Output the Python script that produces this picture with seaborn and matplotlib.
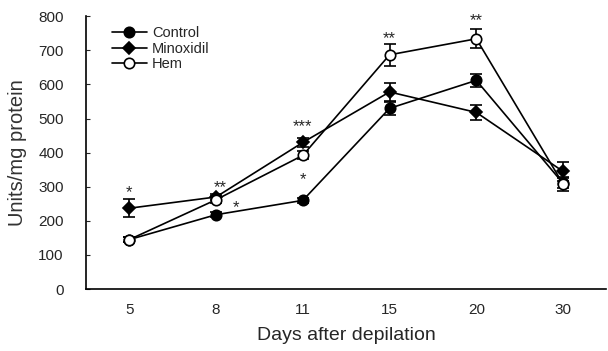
import pandas as pd
import seaborn as sns
import matplotlib.pyplot as plt

days = ["5", "8", "11", "15", "20", "30"]
groups = ["Control", "Minoxidil", "Hem"]

control = [145, 218, 260, 530, 612, 310]
control_err = [8, 8, 8, 20, 20, 15]
minoxidil = [237, 270, 430, 578, 518, 345]
minoxidil_err = [27, 10, 12, 27, 22, 27]
hem = [145, 262, 392, 687, 734, 308]
hem_err = [8, 10, 12, 32, 28, 20]

# significance marks: (text, x position, y value)
star_text = ["*", "**", "*", "***", "*", "**", "**"]
star_x = [0, 1.05, 1.23, 2.0, 2.0, 3.0, 4.0]
star_y = [282, 297, 240, 475, 322, 735, 787]

values = {"Control": control, "Minoxidil": minoxidil, "Hem": hem}
errors = {"Control": control_err, "Minoxidil": minoxidil_err, "Hem": hem_err}

rows = []
for g in groups:
    for i, d in enumerate(days):
        rows.append({"group": g, "pos": i, "day": d, "value": values[g][i], "err": errors[g][i]})
df = pd.DataFrame(rows)

sns.set_style("ticks")
plt.rcParams["font.family"] = ["Liberation Sans", "DejaVu Sans"]

fig = plt.figure(figsize=(6.08, 3.51), dpi=100)
ax = fig.add_axes([0.1414, 0.1766, 0.856, 0.777])

styles = {
    "Control": dict(marker="o", markerfacecolor="black"),
    "Minoxidil": dict(marker="D", markerfacecolor="black", markersize=6.5),
    "Hem": dict(marker="o", markerfacecolor="white"),
}

for g in groups:
    sub = df[df.group == g]
    ax.errorbar(sub.pos, sub.value, yerr=sub.err, fmt="none", ecolor="black",
                elinewidth=1.2, capsize=4, capthick=1.2, zorder=2)
    kw = dict(markersize=7.5)
    kw.update(styles[g])
    sns.lineplot(data=sub, x="pos", y="value", color="black", linewidth=1.2,
                 markeredgecolor="black", markeredgewidth=1.2, label=g, ax=ax,
                 zorder=3, **kw)

for t, x, y in zip(star_text, star_x, star_y):
    ax.text(x, y, t, ha="center", va="center", fontsize=12, clip_on=False)

ax.set_xlim(-0.5, 5.5)
ax.set_ylim(0, 800)
ax.set_xticks(range(len(days)))
ax.set_xticklabels(days)
ax.set_yticks(range(0, 801, 100))
ax.tick_params(axis="x", length=0, labelsize=11, pad=10)
ax.tick_params(axis="y", direction="in", length=3, labelsize=11, pad=16)
ax.set_xlabel("Days after depilation", fontsize=14, labelpad=7)
ax.set_ylabel("Units/mg protein", fontsize=14.5, labelpad=8, color="#333333")
sns.despine(ax=ax)
for s in ["left", "bottom"]:
    ax.spines[s].set_linewidth(1.2)
    ax.spines[s].set_color("black")

leg = ax.legend(loc="upper left", bbox_to_anchor=(0.03, 1.0), frameon=False,
                fontsize=10.5, handlelength=2.4, labelspacing=0.08, handletextpad=0.35,
                borderaxespad=0.3)

fig.savefig("out.png", dpi=100)
